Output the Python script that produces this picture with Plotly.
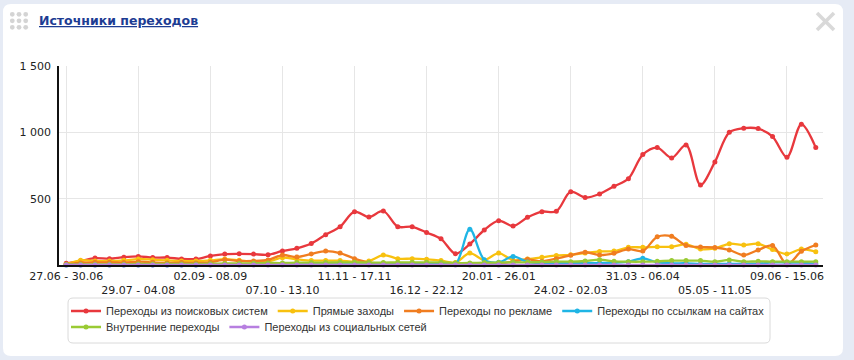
import plotly.graph_objects as go

weeks = [
    "27.06 - 30.06", "01.07 - 07.07", "08.07 - 14.07", "15.07 - 21.07", "22.07 - 28.07",
    "29.07 - 04.08", "05.08 - 11.08", "12.08 - 18.08", "19.08 - 25.08", "26.08 - 01.09",
    "02.09 - 08.09", "09.09 - 15.09", "16.09 - 22.09", "23.09 - 29.09", "30.09 - 06.10",
    "07.10 - 13.10", "14.10 - 20.10", "21.10 - 27.10", "28.10 - 03.11", "04.11 - 10.11",
    "11.11 - 17.11", "18.11 - 24.11", "25.11 - 01.12", "02.12 - 08.12", "09.12 - 15.12",
    "16.12 - 22.12", "23.12 - 29.12", "30.12 - 05.01", "06.01 - 12.01", "13.01 - 19.01",
    "20.01 - 26.01", "27.01 - 02.02", "03.02 - 09.02", "10.02 - 16.02", "17.02 - 23.02",
    "24.02 - 02.03", "03.03 - 09.03", "10.03 - 16.03", "17.03 - 23.03", "24.03 - 30.03",
    "31.03 - 06.04", "07.04 - 13.04", "14.04 - 20.04", "21.04 - 27.04", "28.04 - 04.05",
    "05.05 - 11.05", "12.05 - 18.05", "19.05 - 25.05", "26.05 - 01.06", "02.06 - 08.06",
    "09.06 - 15.06", "16.06 - 22.06", "23.06 - 26.06",
]

search = [13, 30, 52, 47, 59, 65, 56, 56, 46, 45, 68, 82, 84, 82, 77, 106, 126, 162, 228, 289,
          402, 362, 407, 289, 288, 245, 197, 85, 158, 264, 334, 294, 359, 402, 405, 553, 508, 535,
          593, 651, 832, 885, 807, 905, 603, 777, 1000, 1031, 1028, 968, 812, 1061, 885]
direct = [5, 35, 30, 30, 35, 45, 40, 35, 30, 30, 35, 45, 35, 25, 25, 55, 43, 33, 33, 33,
          25, 30, 75, 48, 48, 43, 33, 18, 90, 38, 90, 36, 45, 58, 72, 77, 90, 102,
          105, 133, 133, 137, 137, 156, 120, 126, 160, 151, 160, 116, 83, 120, 100]
ads = [3, 15, 20, 20, 18, 25, 20, 15, 18, 15, 20, 40, 30, 30, 38, 75, 60, 83, 105, 90,
       48, 18, 13, 8, 8, 8, 8, 5, 5, 5, 10, 25, 43, 28, 48, 73, 96, 75,
       88, 120, 105, 212, 216, 147, 135, 132, 113, 75, 113, 147, 5, 103, 151]
links = [0, 0, 0, 0, 0, 0, 0, 0, 0, 0, 2, 3, 3, 3, 3, 3, 5, 5, 5, 5,
         5, 5, 5, 5, 5, 5, 10, 5, 270, 40, 20, 65, 22, 15, 15, 15, 15, 15,
         18, 25, 50, 20, 13, 13, 8, 8, 8, 10, 10, 20, 18, 18, 10]
internal = [3, 5, 5, 5, 5, 8, 8, 8, 8, 8, 10, 12, 12, 13, 15, 15, 18, 18, 18, 20,
            20, 18, 18, 20, 20, 20, 20, 15, 15, 18, 18, 20, 20, 22, 25, 25, 30, 40,
            28, 25, 25, 28, 33, 33, 33, 25, 38, 25, 28, 25, 25, 25, 25]
social = [0] * len(weeks)

series_names = ["Переходы из поисковых систем", "Прямые заходы", "Переходы по рекламе",
                "Переходы по ссылкам на сайтах", "Внутренние переходы", "Переходы из социальных сетей"]
series_values = [search, direct, ads, links, internal, social]
series_colors = ["#e8383d", "#f8c10f", "#f07d20", "#1fb5e5", "#9acb34", "#b77fe0"]
series_legend = ["legend", "legend", "legend", "legend", "legend2", "legend2"]

tick_idx = list(range(0, len(weeks), 5))
tick_vals = [weeks[i] for i in tick_idx]
tick_text = [weeks[i] if k % 2 == 0 else "<br>" + weeks[i] for k, i in enumerate(tick_idx)]

y_tick_vals = [0, 500, 1000, 1500]
y_tick_text = ["", "500", "1 000", "1 500"]

title_text = "Источники переходов"

# geometry helpers (pixel -> paper)
L, T, W, H = 59, 66, 764, 199
def px(x):
    return (x - L) / W
def py(y):
    return (T + H - y) / H

def rrect(x0, y0, x1, y1, r):
    pts = (f"M{px(x0 + r)},{py(y0)} L{px(x1 - r)},{py(y0)} Q{px(x1)},{py(y0)} {px(x1)},{py(y0 + r)} "
           f"L{px(x1)},{py(y1 - r)} Q{px(x1)},{py(y1)} {px(x1 - r)},{py(y1)} "
           f"L{px(x0 + r)},{py(y1)} Q{px(x0)},{py(y1)} {px(x0)},{py(y1 - r)} "
           f"L{px(x0)},{py(y0 + r)} Q{px(x0)},{py(y0)} {px(x0 + r)},{py(y0)} Z")
    return pts

fig = go.Figure()
for name, vals, col, lg in zip(series_names, series_values, series_colors, series_legend):
    fig.add_trace(go.Scatter(
        x=weeks, y=vals, name=name, mode="lines+markers",
        line=dict(color=col, width=2.3, shape="spline", smoothing=0.9),
        marker=dict(color=col, size=5),
        cliponaxis=False, legend=lg,
    ))

shapes = []
# card
shapes.append(dict(type="path", xref="paper", yref="paper", path=rrect(3, 4, 843, 356, 8),
                   fillcolor="white", line=dict(width=0), layer="below"))
# legend box
shapes.append(dict(type="path", xref="paper", yref="paper", path=rrect(68, 298, 770, 343, 5),
                   fillcolor="white", line=dict(color="#dadada", width=1), layer="below"))
# drag dots icon
for cx in (12.3, 19.0, 25.7):
    for cy in (14.3, 20.8, 27.3):
        shapes.append(dict(type="circle", xref="paper", yref="paper",
                           x0=px(cx - 2.4), x1=px(cx + 2.4), y0=py(cy + 2.4), y1=py(cy - 2.4),
                           fillcolor="#d4d4d4", line=dict(width=0)))
# close cross
shapes.append(dict(type="line", xref="paper", yref="paper", x0=px(817), y0=py(13), x1=px(834), y1=py(30),
                   line=dict(color="#d9d9d9", width=3.5)))
shapes.append(dict(type="line", xref="paper", yref="paper", x0=px(817), y0=py(30), x1=px(834), y1=py(13),
                   line=dict(color="#d9d9d9", width=3.5)))

legend_font = dict(family="Liberation Sans", size=11, color="#333333")

fig.update_layout(
    width=854, height=360,
    margin=dict(l=L, r=854 - L - W, t=T, b=360 - T - H, pad=0),
    paper_bgcolor="#e6ebf5",
    plot_bgcolor="rgba(0,0,0,0)",
    font=dict(family="DejaVu Sans", size=11, color="#333333"),
    shapes=shapes,
    annotations=[dict(text="<b><u>" + title_text + "</u></b>", xref="paper", yref="paper",
                      x=px(37), y=py(20), xanchor="left", yanchor="middle", showarrow=False,
                      font=dict(family="DejaVu Sans", size=12.5, color="#1d3c93"))],
    legend=dict(orientation="h", x=px(66), y=py(311), xanchor="left", yanchor="middle",
                bgcolor="rgba(0,0,0,0)", borderwidth=0, font=legend_font),
    legend2=dict(orientation="h", x=px(66), y=py(327), xanchor="left", yanchor="middle",
                 bgcolor="rgba(0,0,0,0)", borderwidth=0, font=legend_font),
    showlegend=True,
    xaxis=dict(type="category", range=[-0.5, len(weeks) - 0.5], tickmode="array",
               tickvals=tick_vals, ticktext=tick_text, ticks="", showline=True,
               linecolor="#111111", linewidth=1.5, showgrid=True, gridcolor="#e6e6e6",
               gridwidth=1, zeroline=False, tickangle=0,
               tickfont=dict(family="DejaVu Sans", size=11, color="#222222")),
    yaxis=dict(range=[0, 1500], tickmode="array", tickvals=y_tick_vals, ticktext=y_tick_text,
               ticks="", showline=True, linecolor="#111111", linewidth=1.5, showgrid=True,
               gridcolor="#e6e6e6", gridwidth=1, zeroline=False, ticklabelstandoff=4,
               tickfont=dict(family="DejaVu Sans", size=11, color="#222222")),
)

fig.write_html("out.html", config={"displayModeBar": False},
               post_script="document.body.style.margin='0';")
